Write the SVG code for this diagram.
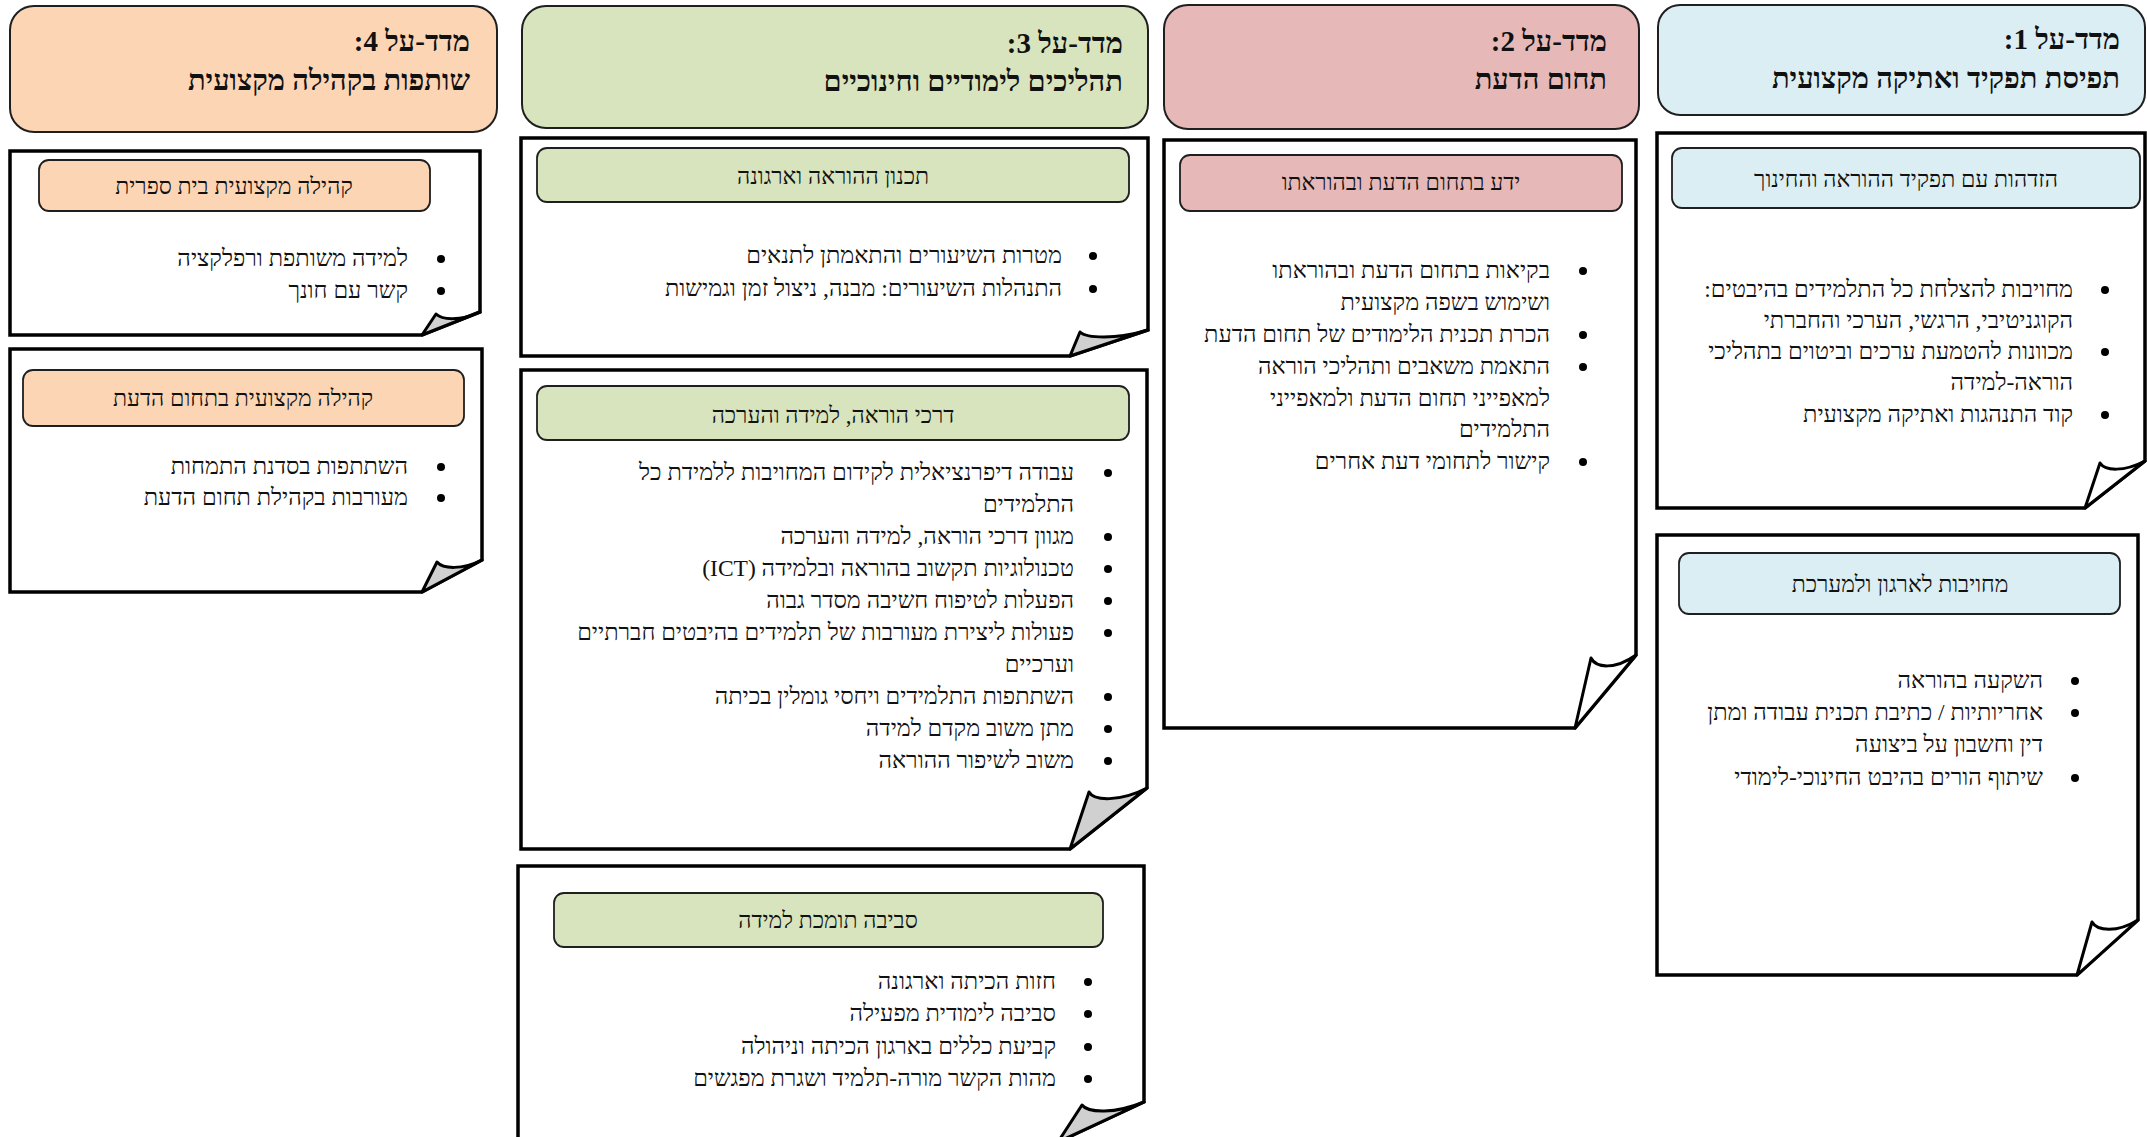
<svg xmlns="http://www.w3.org/2000/svg" width="2147" height="1137" viewBox="0 0 2147 1137">
<style>
.bg{fill:#ffffff}
.card{fill:#ffffff;stroke:#000;stroke-width:3.5;stroke-linejoin:miter}
.flap{stroke:#000;stroke-width:3;stroke-linejoin:round}
.fw{fill:#ffffff}
.fg{fill:#D0D0D0}
.hdr{stroke:#1f1f1f;stroke-width:2}
.sub{stroke:#1f1f1f;stroke-width:1.8}
.blue{fill:#DBEEF4}
.pink{fill:#E6B9B8}
.green{fill:#D7E4BD}
.orange{fill:#FCD5B5}
text{font-family:'Liberation Serif','Tinos','Noto Serif Hebrew','DejaVu Sans',serif;fill:#111;direction:rtl}
.ttl{font-size:29px;font-weight:bold;text-anchor:start}
.st{font-size:23px;text-anchor:middle}
.li{font-size:23.5px;text-anchor:start}
.dot{fill:#000}
</style>
<rect class="bg" x="0" y="0" width="2147" height="1137"/>

<!-- Column 1 -->
<g id="header1">
<rect class="hdr blue" x="1658" y="5" width="487" height="110" rx="22"/>
<text class="ttl" x="2120" y="49">מדד-על 1:</text>
<text class="ttl" x="2120" y="88">תפיסת תפקיד ואתיקה מקצועית</text>
</g>
<g id="card1a">
<path class="card" d="M1657,133 H2145 V461 L2085,508 H1657 Z"/>
<path class="flap fw" d="M2085,508 L2100,463 C2105,471 2124,472 2145,461 Z"/>
<rect class="sub blue" x="1672" y="148" width="468" height="60" rx="10"/>
<text class="st" x="1906" y="187">הזדהות עם תפקיד ההוראה והחינוך</text>
<circle class="dot" cx="2105" cy="290" r="4"/>
<text class="li" x="2073" y="297">מחויבות להצלחת כל התלמידים בהיבטים:</text>
<text class="li" x="2073" y="328">הקוגניטיבי, הרגשי, הערכי והחברתי</text>
<circle class="dot" cx="2105" cy="352" r="4"/>
<text class="li" x="2073" y="359">מכוונות להטמעת ערכים וביטוים בתהליכי</text>
<text class="li" x="2073" y="390">הוראה-למידה</text>
<circle class="dot" cx="2105" cy="415" r="4"/>
<text class="li" x="2073" y="422">קוד התנהגות ואתיקה מקצועית</text>
</g>
<g id="card1b">
<path class="card" d="M1657,535 H2138 V920 L2077,975 H1657 Z"/>
<path class="flap fw" d="M2077,975 L2092,922 C2097,931 2117,933 2138,920 Z"/>
<rect class="sub blue" x="1679" y="553" width="441" height="61" rx="10"/>
<text class="st" x="1900" y="592">מחויבות לארגון ולמערכת</text>
<circle class="dot" cx="2075" cy="681" r="4"/>
<text class="li" x="2043" y="688">השקעה בהוראה</text>
<circle class="dot" cx="2075" cy="713" r="4"/>
<text class="li" x="2043" y="720">אחריותיות / כתיבת תכנית עבודה ומתן</text>
<text class="li" x="2043" y="752">דין וחשבון על ביצועה</text>
<circle class="dot" cx="2075" cy="778" r="4"/>
<text class="li" x="2043" y="785">שיתוף הורים בהיבט החינוכי-לימודי</text>
</g>

<!-- Column 2 -->
<g id="header2">
<rect class="hdr pink" x="1164" y="5" width="475" height="124" rx="24"/>
<text class="ttl" x="1607" y="51">מדד-על 2:</text>
<text class="ttl" x="1607" y="89">תחום הדעת</text>
</g>
<g id="card2">
<path class="card" d="M1164,140 H1636 V655 L1575,728 H1164 Z"/>
<path class="flap fw" d="M1575,728 L1591,658 C1596,668 1615,670 1636,655 Z"/>
<rect class="sub pink" x="1180" y="155" width="442" height="56" rx="10"/>
<text class="st" x="1401" y="190">ידע בתחום הדעת ובהוראתו</text>
<circle class="dot" cx="1583" cy="271" r="4"/>
<text class="li" x="1550" y="278">בקיאות בתחום הדעת ובהוראתו</text>
<text class="li" x="1550" y="310">ושימוש בשפה מקצועית</text>
<circle class="dot" cx="1583" cy="335" r="4"/>
<text class="li" x="1550" y="342">הכרת תכנית הלימודים של תחום הדעת</text>
<circle class="dot" cx="1583" cy="367" r="4"/>
<text class="li" x="1550" y="374">התאמת משאבים ותהליכי הוראה</text>
<text class="li" x="1550" y="406">למאפייני תחום הדעת ולמאפייני</text>
<text class="li" x="1550" y="437">התלמידים</text>
<circle class="dot" cx="1583" cy="462" r="4"/>
<text class="li" x="1550" y="469">קישור לתחומי דעת אחרים</text>
</g>

<!-- Column 3 -->
<g id="header3">
<rect class="hdr green" x="522" y="6" width="626" height="122" rx="24"/>
<text class="ttl" x="1123" y="53">מדד-על 3:</text>
<text class="ttl" x="1123" y="91">תהליכים לימודיים וחינוכיים</text>
</g>
<g id="card3a">
<path class="card" d="M521,138 H1148 V330 L1070,356 H521 Z"/>
<path class="flap fg" d="M1070,356 L1080,332 C1086,338 1115,340 1148,330 Z"/>
<rect class="sub green" x="537" y="148" width="592" height="54" rx="10"/>
<text class="st" x="833" y="184">תכנון ההוראה וארגונה</text>
<circle class="dot" cx="1093" cy="256" r="4"/>
<text class="li" x="1062" y="263">מטרות השיעורים והתאמתן לתנאים</text>
<circle class="dot" cx="1093" cy="289" r="4"/>
<text class="li" x="1062" y="296">התנהלות השיעורים: מבנה, ניצול זמן וגמישות</text>
</g>
<g id="card3b">
<path class="card" d="M521,370 H1147 V788 L1070,849 H521 Z"/>
<path class="flap fg" d="M1070,849 L1089,792 C1094,801 1120,802 1147,788 Z"/>
<rect class="sub green" x="537" y="386" width="592" height="54" rx="10"/>
<text class="st" x="833" y="423">דרכי הוראה, למידה והערכה</text>
<circle class="dot" cx="1108" cy="473" r="4"/>
<text class="li" x="1074" y="480">עבודה דיפרנציאלית לקידום המחויבות ללמידת כל</text>
<text class="li" x="1074" y="512">התלמידים</text>
<circle class="dot" cx="1108" cy="537" r="4"/>
<text class="li" x="1074" y="544">מגוון דרכי הוראה, למידה והערכה</text>
<circle class="dot" cx="1108" cy="569" r="4"/>
<text class="li" x="1074" y="576">טכנולוגיות תקשוב בהוראה ובלמידה (ICT)</text>
<circle class="dot" cx="1108" cy="601" r="4"/>
<text class="li" x="1074" y="608">הפעלות לטיפוח חשיבה מסדר גבוה</text>
<circle class="dot" cx="1108" cy="633" r="4"/>
<text class="li" x="1074" y="640">פעולות ליצירת מעורבות של תלמידים בהיבטים חברתיים</text>
<text class="li" x="1074" y="672">וערכיים</text>
<circle class="dot" cx="1108" cy="697" r="4"/>
<text class="li" x="1074" y="704">השתתפות התלמידים ויחסי גומלין בכיתה</text>
<circle class="dot" cx="1108" cy="729" r="4"/>
<text class="li" x="1074" y="736">מתן משוב מקדם למידה</text>
<circle class="dot" cx="1108" cy="761" r="4"/>
<text class="li" x="1074" y="768">משוב לשיפור ההוראה</text>
</g>
<g id="card3c">
<path class="card" d="M518,866 H1144 V1102 L1058,1142 H518 Z"/>
<path class="flap fg" d="M1058,1142 L1082,1105 C1088,1113 1115,1114 1144,1102 Z"/>
<rect class="sub green" x="554" y="893" width="549" height="54" rx="10"/>
<text class="st" x="828" y="928">סביבה תומכת למידה</text>
<circle class="dot" cx="1088" cy="982" r="4"/>
<text class="li" x="1056" y="989">חזות הכיתה וארגונה</text>
<circle class="dot" cx="1088" cy="1014" r="4"/>
<text class="li" x="1056" y="1021">סביבה לימודית מפעילה</text>
<circle class="dot" cx="1088" cy="1047" r="4"/>
<text class="li" x="1056" y="1054">קביעת כללים בארגון הכיתה וניהולה</text>
<circle class="dot" cx="1088" cy="1079" r="4"/>
<text class="li" x="1056" y="1086">מהות הקשר מורה-תלמיד ושגרת מפגשים</text>
</g>

<!-- Column 4 -->
<g id="header4">
<rect class="hdr orange" x="10" y="6" width="487" height="126" rx="24"/>
<text class="ttl" x="470" y="51">מדד-על 4:</text>
<text class="ttl" x="470" y="90">שותפות בקהילה מקצועית</text>
</g>
<g id="card4a">
<path class="card" d="M10,151 H480 V312 L422,335 H10 Z"/>
<path class="flap fg" d="M422,335 L436,314 C442,320 460,321 480,312 Z"/>
<rect class="sub orange" x="39" y="160" width="391" height="51" rx="10"/>
<text class="st" x="234" y="194">קהילה מקצועית בית ספרית</text>
<circle class="dot" cx="441" cy="259" r="4"/>
<text class="li" x="408" y="266">למידה משותפת ורפלקציה</text>
<circle class="dot" cx="441" cy="291" r="4"/>
<text class="li" x="408" y="298">קשר עם חונך</text>
</g>
<g id="card4b">
<path class="card" d="M10,349 H482 V560 L422,592 H10 Z"/>
<path class="flap fg" d="M422,592 L437,562 C443,569 462,570 482,560 Z"/>
<rect class="sub orange" x="23" y="370" width="441" height="56" rx="10"/>
<text class="st" x="243" y="406">קהילה מקצועית בתחום הדעת</text>
<circle class="dot" cx="441" cy="467" r="4"/>
<text class="li" x="408" y="474">השתתפות בסדנת התמחות</text>
<circle class="dot" cx="441" cy="498" r="4"/>
<text class="li" x="408" y="505">מעורבות בקהילת תחום הדעת</text>
</g>

<g id="connectors"></g>
</svg>
